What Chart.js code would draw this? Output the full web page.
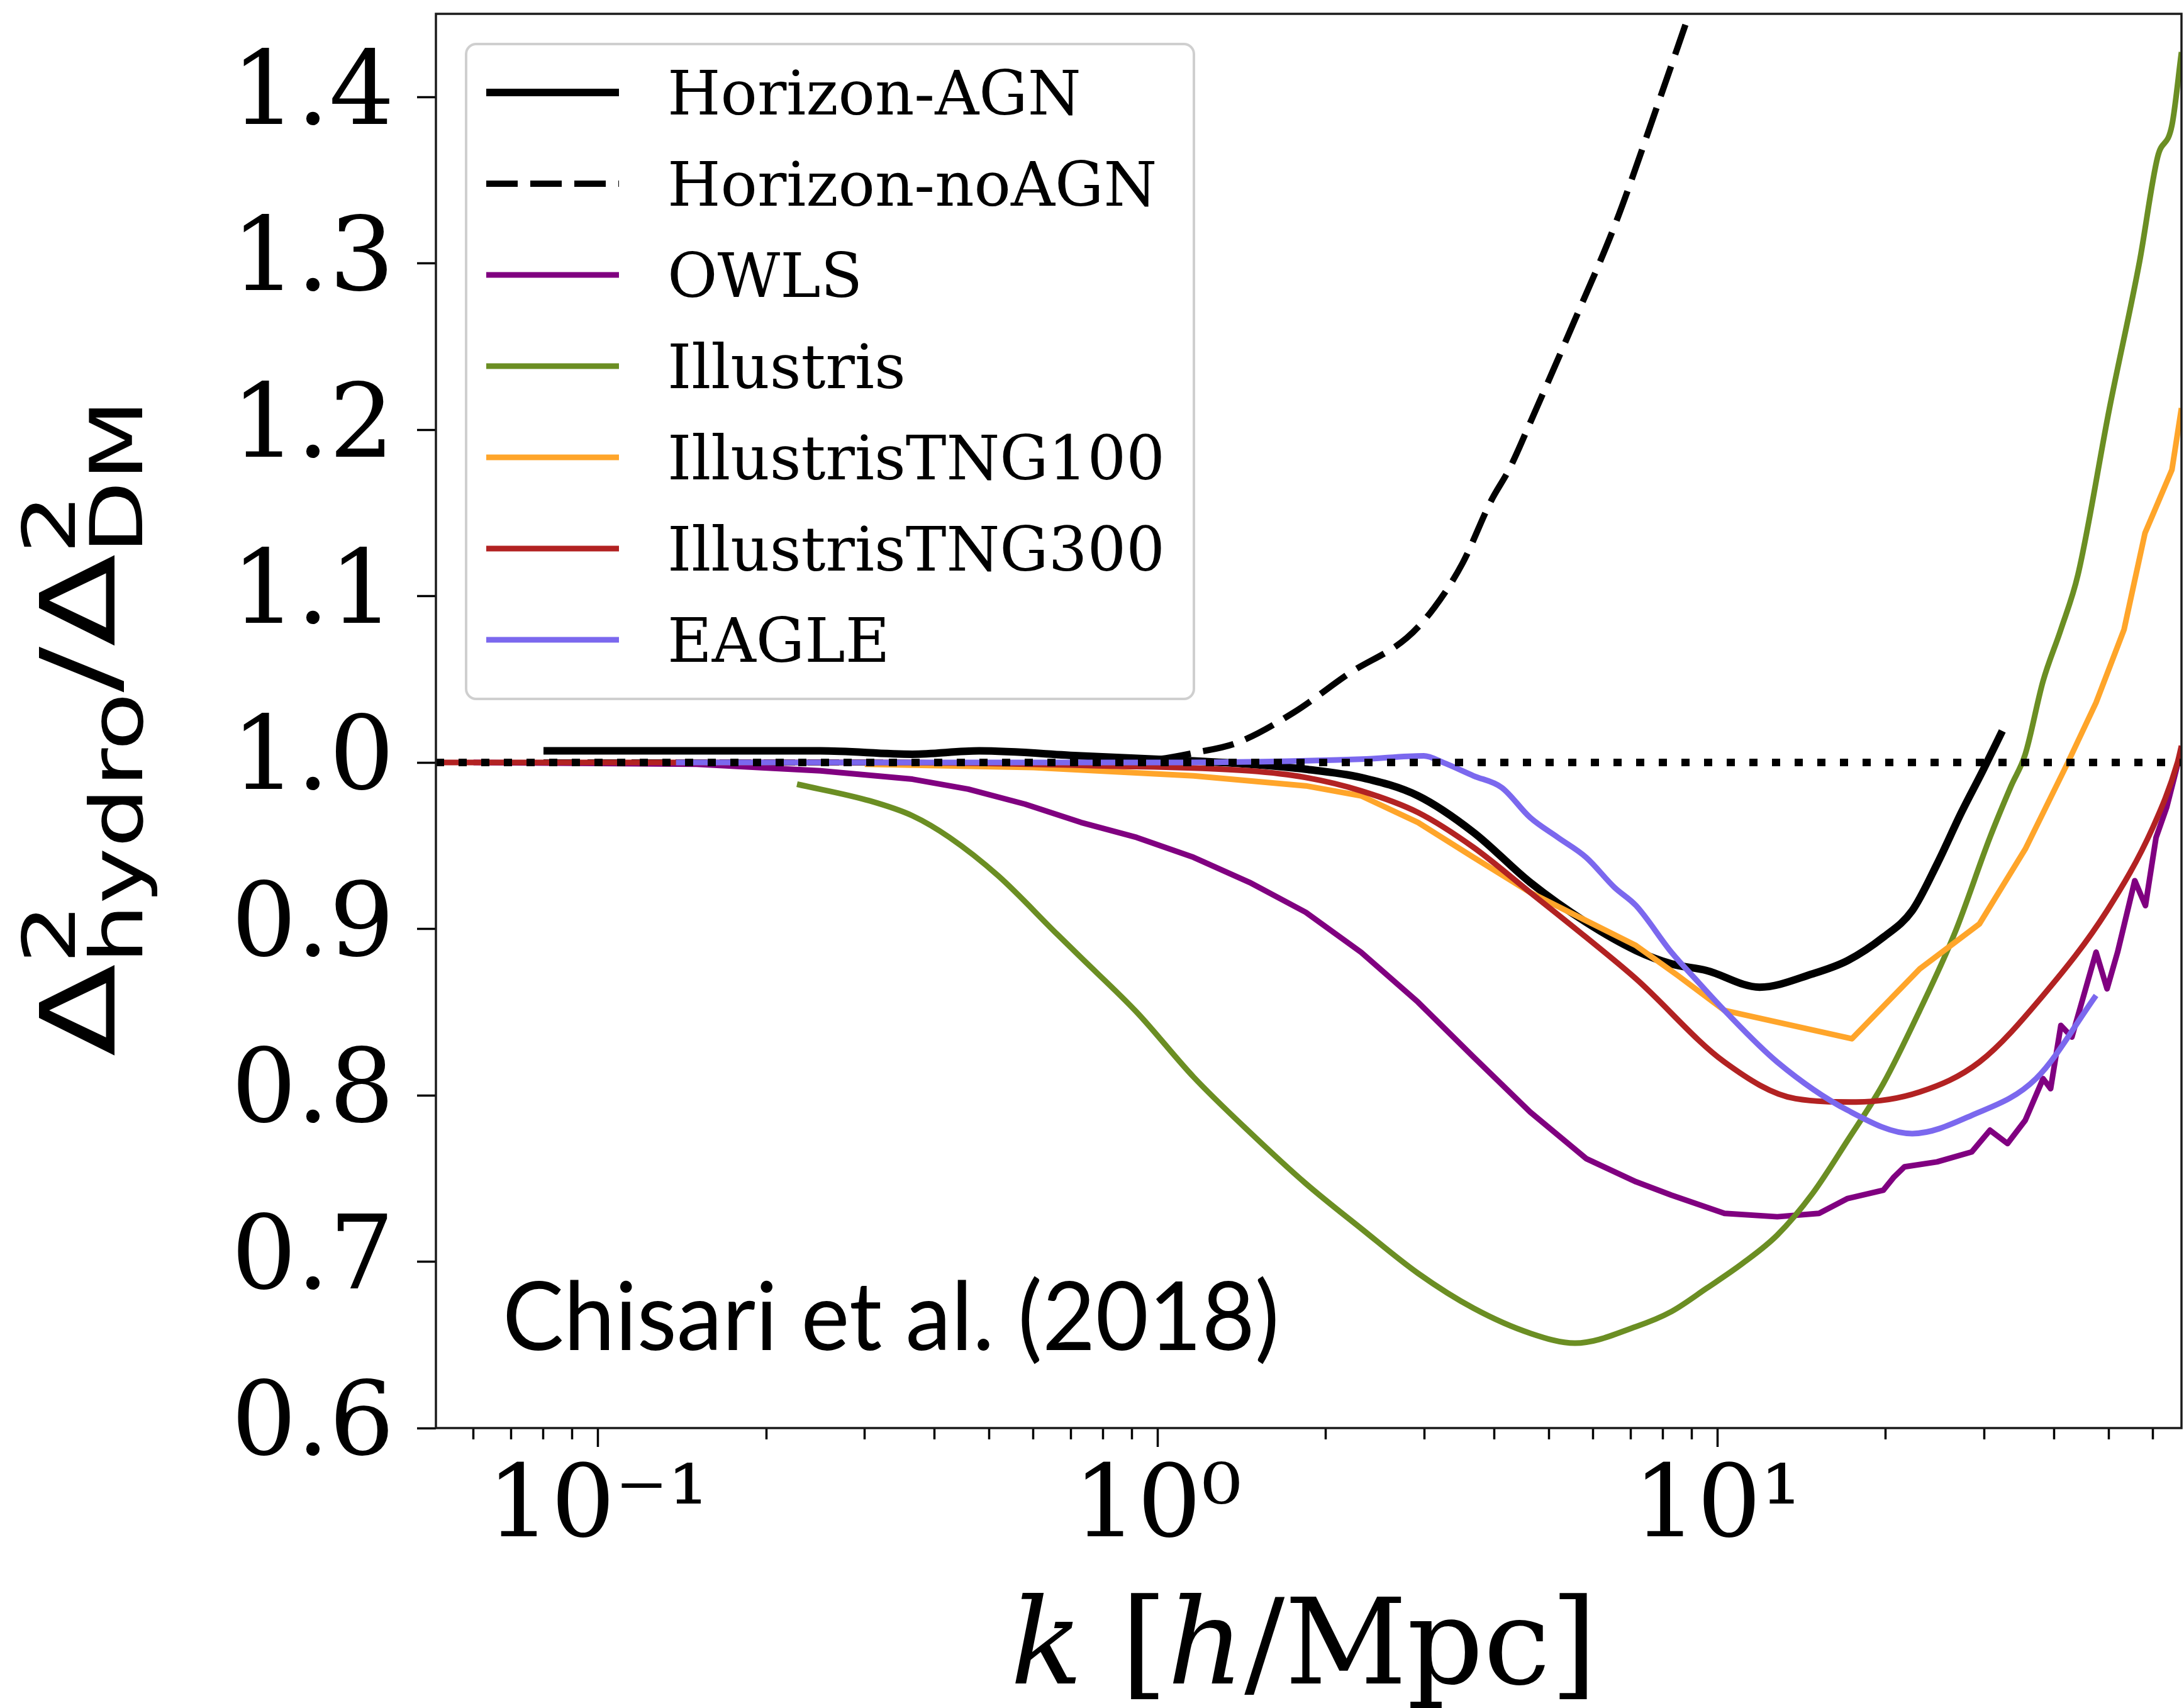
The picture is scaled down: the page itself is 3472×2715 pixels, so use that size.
<!DOCTYPE html>
<html>
<head>
<meta charset="utf-8">
<title>Hydro / DM power spectrum ratio</title>
<script src="https://cdn.jsdelivr.net/npm/chart.js@4.4.1/dist/chart.umd.min.js"></script>
<style>
  html, body { margin: 0; padding: 0; background: #ffffff; }
  canvas { display: block; }
</style>
</head>
<body>
<canvas id="ratioChart" width="3472" height="2715"></canvas>
<script>
// k in h/Mpc and the ratio Delta^2_hydro / Delta^2_DM

const horizonAgnK     = [0.080, 0.15, 0.25, 0.365, 0.48, 0.73, 1.16, 1.46, 1.84, 2.31, 2.92, 3.67, 4.63, 5.83, 7.16, 8.28, 9.57, 11.9, 14.8, 17.1, 19.8, 22.3, 24.7, 27.3, 29.8, 32.3];
const horizonAgnRatio = [1.007, 1.007, 1.007, 1.005, 1.007, 1.004, 1.001, 0.999, 0.996, 0.991, 0.980, 0.958, 0.928, 0.904, 0.887, 0.879, 0.875, 0.865, 0.873, 0.881, 0.895, 0.911, 0.939, 0.970, 0.995, 1.019];

const horizonNoAgnK     = [0.080, 0.3, 0.6, 1.0, 1.17, 1.39, 1.75, 2.21, 2.79, 3.12, 3.51, 3.94, 4.26, 4.67, 5.55, 6.58, 7.82, 8.91];
const horizonNoAgnRatio = [1.000, 1.000, 0.999, 1.002, 1.006, 1.012, 1.030, 1.054, 1.075, 1.093, 1.120, 1.157, 1.177, 1.207, 1.265, 1.324, 1.395, 1.450];

const owlsK     = [0.06, 0.15, 0.25, 0.365, 0.459, 0.58, 0.73, 0.918, 1.16, 1.46, 1.84, 2.31, 2.92, 3.67, 4.63, 5.83, 7.16, 8.28, 10.3, 12.8, 15.2, 17.1, 19.8, 20.7, 21.6, 24.7, 28.5, 30.7, 33.0, 35.5, 38.2, 39.4, 41.1, 43.0, 47.5, 49.7, 51.9, 55.7, 58.2, 60.8, 63.5, 67.5];
const owlsRatio = [1.000, 0.999, 0.995, 0.990, 0.984, 0.975, 0.964, 0.955, 0.943, 0.928, 0.910, 0.886, 0.856, 0.823, 0.790, 0.762, 0.748, 0.740, 0.729, 0.727, 0.729, 0.738, 0.743, 0.751, 0.757, 0.760, 0.766, 0.779, 0.771, 0.785, 0.810, 0.804, 0.842, 0.835, 0.886, 0.864, 0.886, 0.929, 0.914, 0.955, 0.973, 1.008];

const illustrisK     = [0.227, 0.306, 0.365, 0.425, 0.519, 0.661, 0.729, 0.918, 1.16, 1.46, 1.84, 2.31, 2.92, 3.67, 4.63, 5.57, 7.16, 8.28, 9.57, 11.1, 12.8, 14.8, 17.1, 19.8, 23.0, 26.6, 30.7, 33.5, 35.5, 38.2, 41.1, 44.1, 50.2, 56.8, 61.2, 64.9, 67.5];
const illustrisRatio = [0.987, 0.977, 0.968, 0.955, 0.932, 0.897, 0.883, 0.850, 0.811, 0.778, 0.747, 0.720, 0.693, 0.672, 0.657, 0.651, 0.661, 0.670, 0.684, 0.699, 0.716, 0.741, 0.773, 0.807, 0.851, 0.898, 0.955, 0.986, 1.005, 1.049, 1.080, 1.113, 1.213, 1.301, 1.364, 1.383, 1.427];

const tng100K     = [0.30, 0.6, 1.16, 1.84, 2.31, 2.92, 3.67, 4.63, 5.83, 7.16, 8.5, 10.3, 17.4, 23.0, 29.4, 35.5, 42.3, 47.5, 53.3, 58.1, 64.9, 67.5];
const tng100Ratio = [0.999, 0.997, 0.992, 0.986, 0.980, 0.964, 0.943, 0.922, 0.905, 0.890, 0.872, 0.851, 0.834, 0.876, 0.903, 0.948, 1.000, 1.036, 1.080, 1.138, 1.176, 1.213];

const tng300K     = [0.0514, 0.3, 0.8, 1.46, 1.84, 2.31, 2.92, 3.67, 4.63, 5.83, 7.16, 10.3, 13.8, 17.7, 23.0, 29.4, 38.2, 49.7, 60.0, 66.4, 67.5];
const tng300Ratio = [1.000, 1.000, 0.998, 0.995, 0.991, 0.983, 0.970, 0.949, 0.922, 0.895, 0.870, 0.820, 0.798, 0.796, 0.802, 0.820, 0.860, 0.911, 0.961, 1.000, 1.010];

const eagleK     = [0.138, 0.5, 1.0, 2.31, 2.99, 3.24, 3.67, 4.12, 4.63, 5.19, 5.83, 6.55, 7.16, 8.28, 9.25, 10.3, 12.8, 17.1, 22.3, 28.5, 37.1, 47.5];
const eagleRatio = [1.000, 1.000, 1.000, 1.002, 1.004, 1.000, 0.992, 0.985, 0.967, 0.955, 0.943, 0.925, 0.914, 0.886, 0.868, 0.851, 0.820, 0.791, 0.777, 0.788, 0.810, 0.860];

// reference ratio of one across the whole k range
const unityK     = [0.0514, 67.5];
const unityRatio = [1.0, 1.0];

// axes
const kMin = 0.0514;
const kMax = 67.5;
const ratioMin = 0.6;
const ratioMax = 1.45;
const xMajorTicks = [0.1, 1, 10];
const xTickLabels = ['10⁻¹', '10⁰', '10¹'];
const xMinorTicks = [0.06, 0.07, 0.08, 0.09, 0.2, 0.3, 0.4, 0.5, 0.6, 0.7, 0.8, 0.9,
                     2, 3, 4, 5, 6, 7, 8, 9, 20, 30, 40, 50, 60];
const yTicks = [0.6, 0.7, 0.8, 0.9, 1.0, 1.1, 1.2, 1.3, 1.4];

const noteText = 'Chisari et al. (2018)';

// series, in plotting order (later ones sit on top)
const series = [
    {label: 'Horizon-AGN',     k: horizonAgnK,   ratio: horizonAgnRatio,   color: '#000000', width: 12, dash: []},
    {label: 'Horizon-noAGN',   k: horizonNoAgnK, ratio: horizonNoAgnRatio, color: '#000000', width: 10, dash: [50, 20]},
    {label: 'OWLS',            k: owlsK,         ratio: owlsRatio,         color: '#800080', width: 9,  dash: [], straight: true},
    {label: 'Illustris',       k: illustrisK,    ratio: illustrisRatio,    color: '#6b8e23', width: 9,  dash: []},
    {label: 'IllustrisTNG100', k: tng100K,       ratio: tng100Ratio,       color: '#ffa52a', width: 9,  dash: [], straight: true},
    {label: 'IllustrisTNG300', k: tng300K,       ratio: tng300Ratio,       color: '#b22222', width: 9,  dash: []},
    {label: 'EAGLE',           k: eagleK,        ratio: eagleRatio,        color: '#7b68ee', width: 9,  dash: []}
];

function toPoints(k, ratio) {
    return k.map((x, i) => ({x: x, y: ratio[i]}));
}

const datasets = series.map((s, i) => ({
    label: s.label,
    data: toPoints(s.k, s.ratio),
    borderColor: s.color,
    borderWidth: s.width,
    borderDash: s.dash,
    borderCapStyle: 'butt',
    borderJoinStyle: 'round',
    showLine: true,
    pointRadius: 0,
    fill: false,
    tension: 0,
    cubicInterpolationMode: s.straight ? 'default' : 'monotone',
    order: series.length - i + 1
}));

// dotted line at 1, drawn last
datasets.push({
    label: 'unity',
    data: toPoints(unityK, unityRatio),
    borderColor: '#000000',
    borderWidth: 12,
    borderDash: [13, 23],
    borderCapStyle: 'butt',
    showLine: true,
    pointRadius: 0,
    fill: false,
    order: 0
});

// ---- drawing helpers for the parts Chart.js has no option for ----

function roundedRect(ctx, x, y, w, h, r) {
    ctx.beginPath();
    ctx.moveTo(x + r, y);
    ctx.arcTo(x + w, y, x + w, y + h, r);
    ctx.arcTo(x + w, y + h, x, y + h, r);
    ctx.arcTo(x, y + h, x, y, r);
    ctx.arcTo(x, y, x + w, y, r);
    ctx.closePath();
}

function drawLegend(ctx, area) {
    const x0 = area.left + 48;
    const y0 = area.top + 48;
    ctx.save();
    roundedRect(ctx, x0, y0, 1157, 1041, 16);
    ctx.fillStyle = 'rgba(255,255,255,0.85)';
    ctx.fill();
    ctx.lineWidth = 4;
    ctx.strokeStyle = '#cfcfcf';
    ctx.stroke();

    ctx.font = '97px "DejaVu Serif"';
    ctx.textAlign = 'left';
    ctx.textBaseline = 'alphabetic';
    series.forEach((s, i) => {
        const y = y0 + 77 + i * 145;
        ctx.beginPath();
        ctx.setLineDash(s.dash);
        ctx.lineWidth = s.width;
        ctx.strokeStyle = s.color;
        ctx.lineCap = 'butt';
        ctx.moveTo(x0 + 32, y);
        ctx.lineTo(x0 + 243, y);
        ctx.stroke();
        ctx.setLineDash([]);
        ctx.fillStyle = '#000000';
        ctx.fillText(s.label, x0 + 320, y + 35);
    });
    ctx.restore();
}

function drawNote(ctx, area) {
    ctx.save();
    ctx.font = '151px Lato';
    const tw = ctx.measureText(noteText).width;
    ctx.translate(area.left + 106, area.bottom - 124);
    ctx.scale(1235 / tw, 1);
    ctx.fillStyle = '#000000';
    ctx.textBaseline = 'alphabetic';
    ctx.fillText(noteText, 0, 0);
    ctx.restore();
}

function drawXTitle(ctx, area) {
    const roman = '190px "DejaVu Serif"';
    const italic = 'italic 190px "DejaVu Serif"';
    const pieces = [['k', italic], [' [', roman], ['h', italic], ['/Mpc]', roman]];
    ctx.save();
    let total = 0;
    pieces.forEach(p => { ctx.font = p[1]; total += ctx.measureText(p[0]).width; });
    let x = (area.left + area.right) / 2 - 8 - total / 2;
    const y = area.bottom + 406;
    ctx.fillStyle = '#000000';
    ctx.textBaseline = 'alphabetic';
    pieces.forEach(p => {
        ctx.font = p[1];
        ctx.fillText(p[0], x, y);
        x += ctx.measureText(p[0]).width;
    });
    ctx.restore();
}

function drawYTitle(ctx, area) {
    const big = '164px "DejaVu Sans"';
    const small = '115px "DejaVu Sans"';
    ctx.save();
    const width = (t, f) => { ctx.font = f; return ctx.measureText(t).width; };
    const wDelta = width('Δ', big);
    const wSlash = width('/', big);
    const wHydro = Math.max(width('hydro', small), width('2', small));
    const wDm = Math.max(width('DM', small), width('2', small));
    const total = 2 * wDelta + wSlash + wHydro + wDm;

    ctx.translate(182, (area.top + area.bottom) / 2 + 11);
    ctx.rotate(-Math.PI / 2);
    ctx.scale(1045 / total, 1);
    ctx.fillStyle = '#000000';
    ctx.textBaseline = 'alphabetic';
    let x = -total / 2;
    ctx.font = big;   ctx.fillText('Δ', x, 0); x += wDelta;
    ctx.font = small; ctx.fillText('2', x, -63); ctx.fillText('hydro', x, 44); x += wHydro;
    ctx.font = big;   ctx.fillText('/', x, 0); x += wSlash;
    ctx.fillText('Δ', x, 0); x += wDelta;
    ctx.font = small; ctx.fillText('2', x, -63); ctx.fillText('DM', x, 44);
    ctx.restore();
}

const decorations = {
    id: 'decorations',
    afterDraw(chart) {
        const ctx = chart.ctx;
        const area = chart.chartArea;
        // axes frame
        ctx.save();
        ctx.lineWidth = 3.5;
        ctx.strokeStyle = '#1a1a1a';
        ctx.strokeRect(area.left, area.top, area.right - area.left, area.bottom - area.top);
        ctx.restore();
        drawLegend(ctx, area);
        drawNote(ctx, area);
        drawXTitle(ctx, area);
        drawYTitle(ctx, area);
    }
};

const ctx = document.getElementById('ratioChart').getContext('2d');
new Chart(ctx, {
    type: 'scatter',
    data: {datasets: datasets},
    plugins: [decorations],
    options: {
        responsive: false,
        animation: false,
        devicePixelRatio: 1,
        layout: {padding: {top: 22, right: 4, left: 0, bottom: 0}},
        plugins: {
            legend: {display: false},
            tooltip: {enabled: false}
        },
        scales: {
            x: {
                type: 'logarithmic',
                min: kMin,
                max: kMax,
                afterBuildTicks: scale => {
                    scale.ticks = xMinorTicks.concat(xMajorTicks)
                        .sort((a, b) => a - b)
                        .map(v => ({value: v}));
                },
                afterFit: scale => {
                    scale.height = 445;
                    scale.paddingLeft = 0;
                    scale.paddingRight = 0;
                },
                border: {display: false},
                grid: {
                    drawOnChartArea: false,
                    drawTicks: true,
                    tickLength: 30,
                    tickWidth: 3.5,
                    tickColor: '#000000',
                    tickBorderDash: c => (c.tick && xMajorTicks.indexOf(c.tick.value) >= 0) ? [] : [18, 200]
                },
                ticks: {
                    autoSkip: false,
                    maxRotation: 0,
                    padding: 4,
                    color: '#000000',
                    font: {family: '"DejaVu Serif"', size: 160},
                    callback: value => {
                        const i = xMajorTicks.indexOf(value);
                        return i >= 0 ? xTickLabels[i] : '';
                    }
                }
            },
            y: {
                type: 'linear',
                min: ratioMin,
                max: ratioMax,
                afterBuildTicks: scale => {
                    scale.ticks = yTicks.map(v => ({value: v}));
                },
                afterFit: scale => {
                    scale.width = 693;
                    scale.paddingTop = 0;
                    scale.paddingBottom = 0;
                },
                border: {display: false},
                grid: {
                    drawOnChartArea: false,
                    drawTicks: true,
                    tickLength: 30,
                    tickWidth: 3.5,
                    tickColor: '#000000'
                },
                ticks: {
                    padding: 36,
                    color: '#000000',
                    font: {family: '"DejaVu Serif"', size: 163},
                    callback: value => value.toFixed(1)
                }
            }
        }
    }
});
</script>
</body>
</html>
